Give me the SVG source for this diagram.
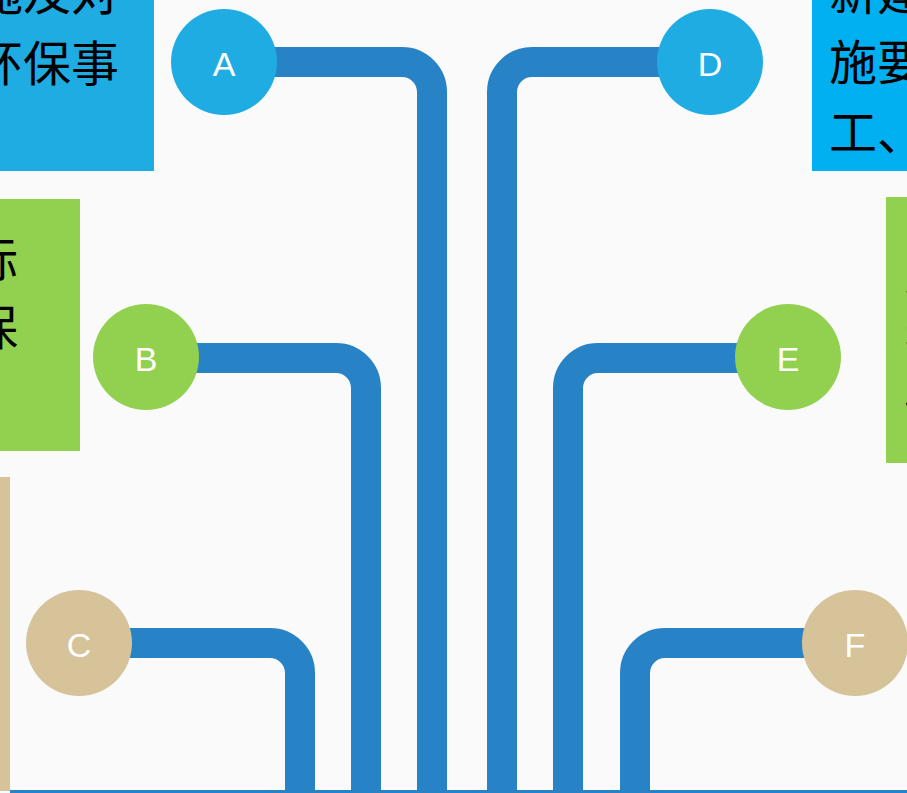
<svg xmlns="http://www.w3.org/2000/svg" width="907" height="793" viewBox="0 0 907 793">
<defs>
<style>
.pipe{fill:none;stroke:#2783C6;stroke-width:30;}
.lbl{font-family:"Liberation Sans",Arial,sans-serif;font-size:34px;fill:#FFFFFF;text-anchor:middle;dominant-baseline:central;}
.cn{font-family:"Noto Sans CJK SC","Noto Sans",sans-serif;font-size:48px;fill:#000000;}
.blue{fill:#1FACE3;}
.blue2{fill:#00B0F0;}
.green{fill:#92D050;}
.tan{fill:#D6C399;}
</style>
</defs>
<rect x="0" y="0" width="907" height="793" fill="#FAFAFA"/>

<g id="box-top-left">
<rect class="blue" x="-150" y="0" width="304" height="171"/>
<text class="cn" x="119" y="10" text-anchor="end">设施及对</text>
<text class="cn" x="119" y="81" text-anchor="end">环保事</text>
</g>
<g id="box-top-right">
<rect class="blue2" x="812" y="0" width="300" height="171"/>
<text class="cn" x="829" y="10">新建</text>
<text class="cn" x="829" y="80">施要</text>
<text class="cn" x="829" y="150">工、</text>
</g>
<g id="box-mid-left">
<rect class="green" x="-220" y="199" width="300" height="252"/>
<text class="cn" x="18" y="277" text-anchor="end">标</text>
<text class="cn" x="18" y="345" text-anchor="end">保</text>
</g>
<g id="box-mid-right">
<rect class="green" x="886" y="197" width="300" height="266"/>
<text class="cn" x="905" y="290">加强</text>
<text class="cn" x="905" y="357">执行</text>
<text class="cn" x="905" y="424">做好</text>
</g>
<g id="box-bottom-left">
<rect class="tan" x="-290" y="477" width="300" height="314"/>
</g>

<g id="connectors">
<path class="pipe" d="M224 62 H402 A30 30 0 0 1 432 92 V791"/>
<path class="pipe" d="M146 358 H336 A30 30 0 0 1 366 388 V791"/>
<path class="pipe" d="M79 643 H270 A30 30 0 0 1 300 673 V791"/>
<path class="pipe" d="M710 62 H532 A30 30 0 0 0 502 92 V791"/>
<path class="pipe" d="M788 358 H598 A30 30 0 0 0 568 388 V791"/>
<path class="pipe" d="M855 643 H665 A30 30 0 0 0 635 673 V791"/>
<rect x="10" y="790" width="897" height="3" fill="#2783C6"/>
</g>

<g id="node-A"><circle class="blue" cx="224" cy="62" r="53"/><text class="lbl" x="224" y="64">A</text></g>
<g id="node-B"><circle class="green" cx="146" cy="357" r="53"/><text class="lbl" x="146" y="359">B</text></g>
<g id="node-C"><circle class="tan" cx="79" cy="643" r="53"/><text class="lbl" x="79" y="645">C</text></g>
<g id="node-D"><circle class="blue" cx="710" cy="62" r="53"/><text class="lbl" x="710" y="64">D</text></g>
<g id="node-E"><circle class="green" cx="788" cy="357" r="53"/><text class="lbl" x="788" y="359">E</text></g>
<g id="node-F"><circle class="tan" cx="855" cy="643" r="53"/><text class="lbl" x="855" y="645">F</text></g>
</svg>
